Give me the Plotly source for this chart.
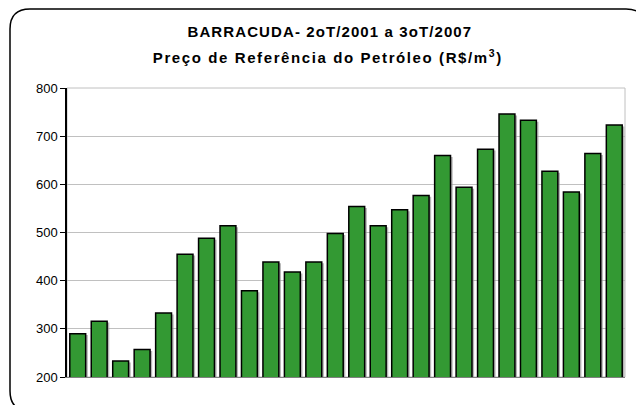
import plotly.graph_objects as go

quarters = ["2T/2001", "3T/2001", "4T/2001",
            "1T/2002", "2T/2002", "3T/2002", "4T/2002",
            "1T/2003", "2T/2003", "3T/2003", "4T/2003",
            "1T/2004", "2T/2004", "3T/2004", "4T/2004",
            "1T/2005", "2T/2005", "3T/2005", "4T/2005",
            "1T/2006", "2T/2006", "3T/2006", "4T/2006",
            "1T/2007", "2T/2007", "3T/2007"]
precos = [290, 316, 233, 257, 333, 455, 488, 514, 379, 439, 418, 439, 498,
          554, 514, 547, 577, 660, 594, 673, 746, 733, 627, 584, 664, 723]

title1 = "BARRACUDA- 2oT/2001 a 3oT/2007"
title2 = "Preço de Referência do Petróleo (R$/m<sup>3</sup>)"
y_ticks = [200, 300, 400, 500, 600, 700, 800]

W, H = 636, 405
L, R, T, B = 67, 11, 88, 28
pw, ph = W - L - R, H - T - B

def px(x):
    return (x - L) / pw

def py(y):
    return (H - B - y) / ph

BW = 0.74
fig = go.Figure()
# soft drop shadow behind the bars
fig.add_trace(go.Bar(
    x=quarters, y=[v - 3 for v in precos],
    marker=dict(color="rgba(150,150,150,0.7)", line=dict(width=0)),
    width=BW, offset=-BW / 2 + 0.1, hoverinfo="skip",
))
fig.add_trace(go.Bar(
    x=quarters, y=precos,
    marker=dict(color="#339933", line=dict(color="#000000", width=1.5)),
    width=BW, offset=-BW / 2,
))

# rounded outer border (right and bottom sides fall outside the picture)
x0, x1, y0, y1, r = 10, 646, 9, 411, 20
path = (f"M {px(x0 + r)},{py(y0)} L {px(x1 - r)},{py(y0)} "
        f"Q {px(x1)},{py(y0)} {px(x1)},{py(y0 + r)} "
        f"L {px(x1)},{py(y1 - r)} Q {px(x1)},{py(y1)} {px(x1 - r)},{py(y1)} "
        f"L {px(x0 + r)},{py(y1)} Q {px(x0)},{py(y1)} {px(x0)},{py(y1 - r)} "
        f"L {px(x0)},{py(y0 + r)} Q {px(x0)},{py(y0)} {px(x0 + r)},{py(y0)} Z")

tfont = dict(size=15, family="Liberation Sans, Arial, sans-serif", color="#000000")

fig.update_layout(
    width=W, height=H,
    margin=dict(l=L, r=R, t=T, b=B, pad=0),
    paper_bgcolor="white", plot_bgcolor="white",
    showlegend=False,
    barmode="overlay",
    font=dict(family="Liberation Sans, Arial, sans-serif", color="#000000"),
    shapes=[
        dict(type="path", xref="paper", yref="paper", path=path,
             line=dict(color="#000000", width=1.5), layer="below"),
        dict(type="rect", xref="paper", yref="paper", x0=0, x1=1, y0=0, y1=1,
             line=dict(color="#c0c0c0", width=1), layer="below"),
    ],
    annotations=[
        dict(text="<b>" + title1 + "</b>", xref="paper", yref="paper",
             x=px(330), y=py(31.5), showarrow=False, xanchor="center", yanchor="middle",
             font=tfont, name="t1"),
        dict(text="<b>" + title2 + "</b>", xref="paper", yref="paper",
             x=px(327.5), y=py(56), showarrow=False, xanchor="center", yanchor="middle",
             font=tfont, name="t2"),
    ],
)
fig.update_xaxes(showticklabels=False, showgrid=False, ticks="",
                 showline=True, linecolor="#808080", linewidth=1, mirror=False)
fig.update_yaxes(range=[200, 800], tickvals=y_ticks, showgrid=True,
                 gridcolor="#c0c0c0", gridwidth=1, zeroline=False,
                 showline=True, linecolor="#000000", linewidth=1.5,
                 ticks="outside", ticklen=5, tickcolor="#000000",
                 tickfont=dict(size=13, color="#000000"))

post = """
document.body.style.margin='0';
document.body.style.padding='0';
var ts = document.querySelectorAll('.annotation-text');
if (ts.length >= 2) {
  ts[0].style.letterSpacing = '1.1px';
  ts[1].style.letterSpacing = '1.6px';
}
"""
fig.write_html("out.html", post_script=post, config={"displayModeBar": False})
